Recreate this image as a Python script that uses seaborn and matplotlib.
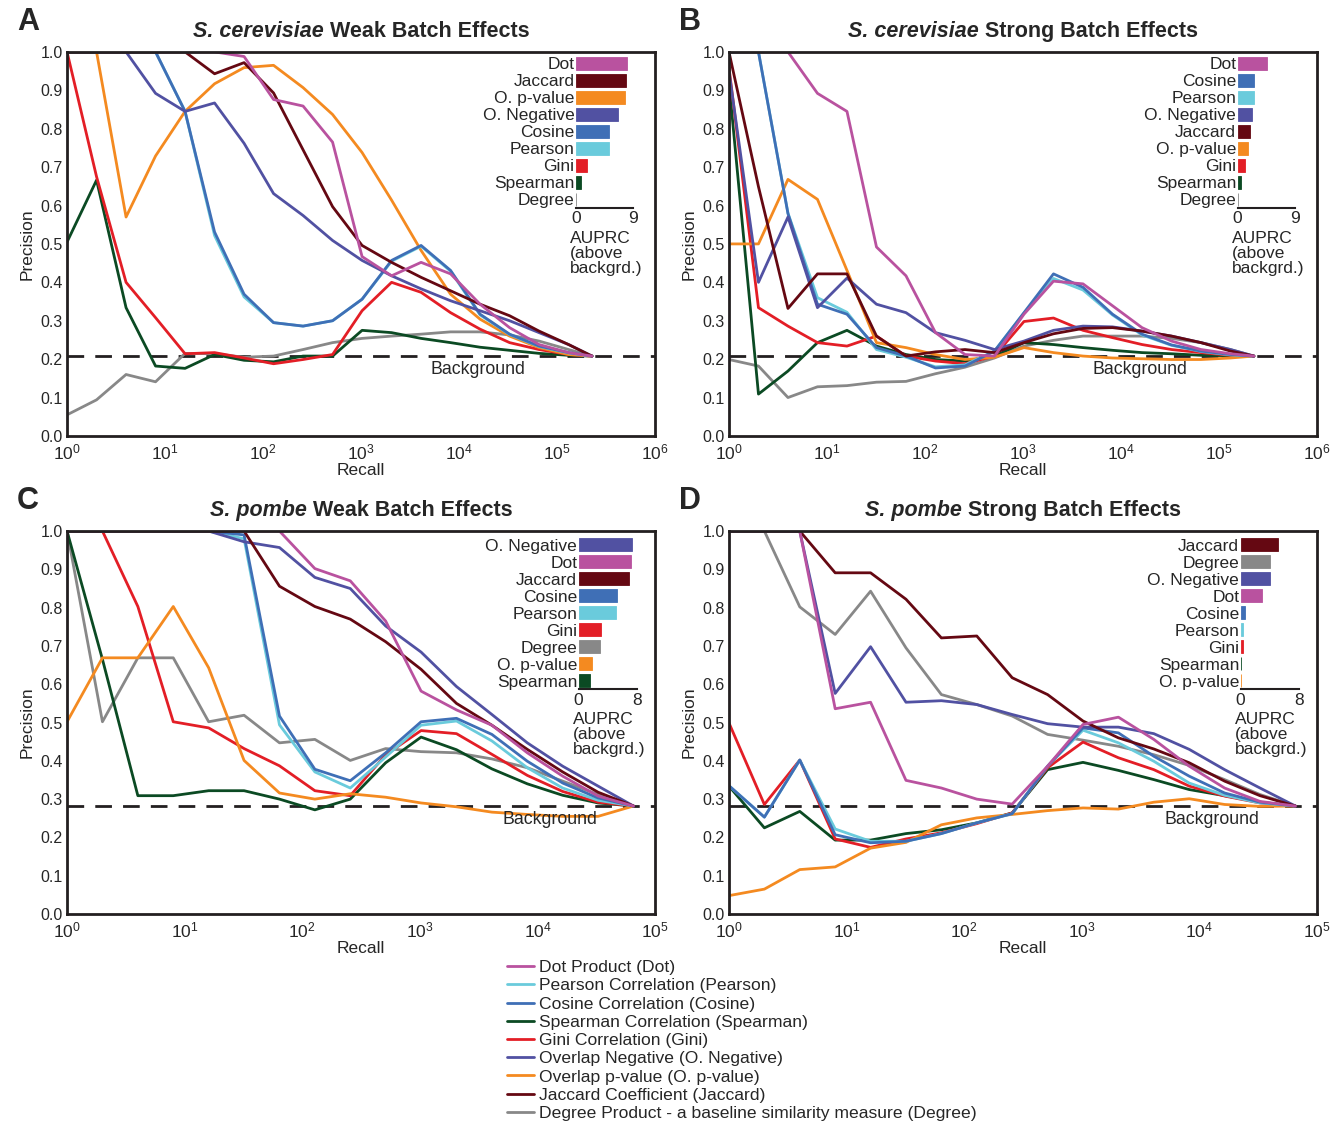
import numpy as np
import pandas as pd
import matplotlib
matplotlib.use('Agg')
import matplotlib.pyplot as plt
import matplotlib.transforms as mtransforms
from matplotlib.lines import Line2D
import seaborn as sns

# recall positions (number of top-ranked pairs)
recall_sc = [1, 2, 4, 8, 16, 32, 64, 128, 256, 512, 1024, 2048, 4096, 8192,
             16384, 32768, 65536, 131072, 227000]
recall_sp = [1, 2, 4, 8, 16, 32, 64, 128, 256, 512, 1024, 2048, 4096, 8192,
             16384, 32768, 65536]

methods = ['Dot', 'Pearson', 'Cosine', 'Spearman', 'Gini', 'O. Negative',
           'O. p-value', 'Jaccard', 'Degree']
legend_labels = ['Dot Product (Dot)', 'Pearson Correlation (Pearson)',
                 'Cosine Correlation (Cosine)', 'Spearman Correlation (Spearman)',
                 'Gini Correlation (Gini)', 'Overlap Negative (O. Negative)',
                 'Overlap p-value (O. p-value)', 'Jaccard Coefficient (Jaccard)',
                 'Degree Product - a baseline similarity measure (Degree)']
colors = ['#b9529f', '#6acbdc', '#3f6fb6', '#0b4a23', '#e31e26', '#5151a2',
          '#f48a20', '#650812', '#888888']

# A: S. cerevisiae weak
a_dot = [1.0, 1.0, 1.0, 1.0, 1.0, 1.0, 0.988, 0.876, 0.859, 0.765, 0.467, 0.417, 0.452, 0.422, 0.343, 0.282, 0.238, 0.217, 0.208]
a_pear = [1.0, 1.0, 1.0, 1.0, 0.845, 0.522, 0.362, 0.295, 0.286, 0.300, 0.356, 0.455, 0.494, 0.429, 0.315, 0.264, 0.233, 0.216, 0.208]
a_cos = [1.0, 1.0, 1.0, 1.0, 0.845, 0.531, 0.369, 0.295, 0.286, 0.300, 0.356, 0.457, 0.496, 0.431, 0.317, 0.265, 0.234, 0.217, 0.208]
a_spear = [0.505, 0.666, 0.334, 0.182, 0.176, 0.212, 0.197, 0.193, 0.208, 0.208, 0.275, 0.269, 0.254, 0.243, 0.231, 0.223, 0.215, 0.210, 0.208]
a_gini = [1.0, 0.675, 0.400, 0.308, 0.214, 0.217, 0.203, 0.188, 0.199, 0.212, 0.326, 0.400, 0.374, 0.321, 0.278, 0.243, 0.225, 0.212, 0.208]
a_oneg = [1.0, 1.0, 1.0, 0.892, 0.845, 0.867, 0.762, 0.631, 0.574, 0.509, 0.457, 0.417, 0.383, 0.352, 0.326, 0.300, 0.269, 0.238, 0.208]
a_opv = [1.0, 1.0, 0.570, 0.729, 0.845, 0.917, 0.959, 0.965, 0.907, 0.837, 0.738, 0.614, 0.483, 0.369, 0.304, 0.260, 0.230, 0.212, 0.208]
a_jac = [1.0, 1.0, 1.0, 1.0, 1.0, 0.943, 0.972, 0.893, 0.745, 0.597, 0.496, 0.452, 0.413, 0.378, 0.343, 0.313, 0.273, 0.238, 0.208]
a_deg = [0.055, 0.094, 0.160, 0.141, 0.215, 0.214, 0.205, 0.208, 0.225, 0.243, 0.254, 0.260, 0.265, 0.271, 0.271, 0.263, 0.247, 0.225, 0.208]

# B: S. cerevisiae strong
b_dot = [1.0, 1.0, 1.0, 0.892, 0.845, 0.492, 0.417, 0.269, 0.212, 0.208, 0.317, 0.403, 0.396, 0.339, 0.282, 0.247, 0.225, 0.214, 0.208]
b_pear = [1.0, 1.0, 0.580, 0.360, 0.322, 0.225, 0.205, 0.180, 0.185, 0.221, 0.320, 0.410, 0.380, 0.315, 0.263, 0.236, 0.220, 0.211, 0.208]
b_cos = [1.0, 1.0, 0.579, 0.343, 0.317, 0.230, 0.208, 0.177, 0.182, 0.221, 0.321, 0.422, 0.387, 0.317, 0.265, 0.237, 0.221, 0.212, 0.208]
b_spear = [0.920, 0.109, 0.169, 0.243, 0.275, 0.234, 0.212, 0.199, 0.195, 0.208, 0.243, 0.238, 0.230, 0.223, 0.217, 0.214, 0.210, 0.209, 0.208]
b_gini = [0.960, 0.334, 0.286, 0.243, 0.234, 0.260, 0.208, 0.195, 0.188, 0.208, 0.298, 0.307, 0.275, 0.256, 0.238, 0.225, 0.217, 0.210, 0.208]
b_oneg = [0.950, 0.400, 0.570, 0.334, 0.411, 0.343, 0.321, 0.269, 0.249, 0.225, 0.247, 0.275, 0.286, 0.284, 0.273, 0.260, 0.243, 0.225, 0.208]
b_opv = [0.500, 0.500, 0.668, 0.616, 0.431, 0.243, 0.230, 0.212, 0.199, 0.205, 0.230, 0.217, 0.208, 0.203, 0.201, 0.199, 0.199, 0.203, 0.208]
b_jac = [1.0, 0.649, 0.332, 0.422, 0.422, 0.260, 0.208, 0.219, 0.225, 0.217, 0.243, 0.266, 0.280, 0.282, 0.273, 0.260, 0.243, 0.221, 0.208]
b_deg = [0.199, 0.182, 0.100, 0.128, 0.131, 0.140, 0.142, 0.162, 0.179, 0.203, 0.234, 0.249, 0.260, 0.260, 0.260, 0.254, 0.243, 0.225, 0.208]

# C: S. pombe weak
c_dot = [1.0, 1.0, 1.0, 1.0, 1.0, 1.0, 1.0, 0.902, 0.870, 0.765, 0.582, 0.533, 0.493, 0.421, 0.360, 0.308, 0.282]
c_pear = [1.0, 1.0, 1.0, 1.0, 1.0, 0.980, 0.494, 0.371, 0.329, 0.410, 0.493, 0.504, 0.452, 0.382, 0.329, 0.297, 0.282]
c_cos = [1.0, 1.0, 1.0, 1.0, 1.0, 0.990, 0.517, 0.378, 0.348, 0.421, 0.502, 0.511, 0.469, 0.399, 0.342, 0.303, 0.282]
c_spear = [1.0, 0.665, 0.309, 0.309, 0.322, 0.322, 0.300, 0.272, 0.300, 0.395, 0.462, 0.429, 0.379, 0.340, 0.310, 0.290, 0.282]
c_gini = [1.0, 1.0, 0.803, 0.502, 0.486, 0.432, 0.387, 0.322, 0.309, 0.416, 0.479, 0.471, 0.417, 0.362, 0.320, 0.292, 0.282]
c_oneg = [1.0, 1.0, 1.0, 1.0, 1.0, 0.972, 0.957, 0.879, 0.850, 0.752, 0.684, 0.594, 0.521, 0.447, 0.386, 0.334, 0.282]
c_opv = [0.502, 0.669, 0.669, 0.803, 0.643, 0.401, 0.316, 0.300, 0.314, 0.305, 0.290, 0.280, 0.266, 0.260, 0.255, 0.255, 0.282]
c_jac = [1.0, 1.0, 1.0, 1.0, 1.0, 1.0, 0.856, 0.803, 0.770, 0.711, 0.639, 0.550, 0.493, 0.430, 0.371, 0.318, 0.282]
c_deg = [1.0, 0.502, 0.669, 0.669, 0.502, 0.519, 0.447, 0.456, 0.401, 0.432, 0.424, 0.421, 0.405, 0.382, 0.347, 0.312, 0.282]

# D: S. pombe strong
d_dot = [1.0, 1.0, 1.0, 0.536, 0.553, 0.349, 0.329, 0.300, 0.287, 0.386, 0.495, 0.514, 0.456, 0.386, 0.329, 0.294, 0.282]
d_pear = [0.335, 0.253, 0.402, 0.222, 0.190, 0.190, 0.210, 0.238, 0.262, 0.386, 0.480, 0.447, 0.399, 0.342, 0.310, 0.290, 0.282]
d_cos = [0.335, 0.253, 0.402, 0.207, 0.186, 0.190, 0.210, 0.238, 0.262, 0.386, 0.486, 0.473, 0.412, 0.360, 0.316, 0.292, 0.282]
d_spear = [0.334, 0.225, 0.268, 0.193, 0.193, 0.210, 0.220, 0.238, 0.264, 0.377, 0.396, 0.375, 0.351, 0.325, 0.309, 0.292, 0.282]
d_gini = [0.499, 0.286, 0.402, 0.196, 0.174, 0.196, 0.212, 0.236, 0.264, 0.382, 0.449, 0.408, 0.377, 0.334, 0.308, 0.290, 0.282]
d_oneg = [1.0, 1.0, 1.0, 0.576, 0.698, 0.553, 0.557, 0.547, 0.521, 0.497, 0.488, 0.488, 0.471, 0.430, 0.377, 0.329, 0.282]
d_opv = [0.048, 0.065, 0.116, 0.123, 0.172, 0.187, 0.233, 0.251, 0.260, 0.270, 0.277, 0.274, 0.292, 0.301, 0.286, 0.281, 0.282]
d_jac = [1.0, 1.0, 1.0, 0.891, 0.891, 0.822, 0.721, 0.726, 0.617, 0.573, 0.504, 0.460, 0.431, 0.395, 0.347, 0.309, 0.282]
d_deg = [1.0, 1.0, 0.802, 0.730, 0.843, 0.695, 0.573, 0.547, 0.517, 0.469, 0.454, 0.438, 0.416, 0.388, 0.351, 0.312, 0.282]

background = [0.208, 0.208, 0.282, 0.282]

# AUPRC above background, in inset order
a_bar_names = ['Dot', 'Jaccard', 'O. p-value', 'O. Negative', 'Cosine', 'Pearson', 'Gini', 'Spearman', 'Degree']
a_bar_vals = [8.0, 7.8, 7.7, 6.6, 5.2, 5.2, 1.8, 0.9, 0.1]
b_bar_names = ['Dot', 'Cosine', 'Pearson', 'O. Negative', 'Jaccard', 'O. p-value', 'Gini', 'Spearman', 'Degree']
b_bar_vals = [4.6, 2.5, 2.5, 2.2, 2.0, 1.6, 1.1, 0.6, 0.0]
c_bar_names = ['O. Negative', 'Dot', 'Jaccard', 'Cosine', 'Pearson', 'Gini', 'Degree', 'O. p-value', 'Spearman']
c_bar_vals = [7.3, 7.2, 6.95, 5.3, 5.2, 3.1, 3.0, 1.9, 1.5]
d_bar_names = ['Jaccard', 'Degree', 'O. Negative', 'Dot', 'Cosine', 'Pearson', 'Gini', 'Spearman', 'O. p-value']
d_bar_vals = [5.2, 4.1, 4.0, 3.0, 0.55, 0.4, 0.4, 0.1, 0.1]

sns.set_style('white')
plt.rcParams['font.family'] = ['Liberation Sans', 'DejaVu Sans']
plt.rcParams['mathtext.fontset'] = 'custom'
plt.rcParams['mathtext.rm'] = 'Liberation Sans'
plt.rcParams['mathtext.it'] = 'Liberation Sans:italic'
plt.rcParams['mathtext.bf'] = 'Liberation Sans:bold'

palette = dict(zip(methods, colors))
ink = '#231f20'

fig = plt.figure(figsize=(13.41, 11.23), dpi=100)

panels = [
    ('A', 'S. cerevisiae', 'Weak Batch Effects', recall_sc, 1e6,
     [a_dot, a_pear, a_cos, a_spear, a_gini, a_oneg, a_opv, a_jac, a_deg],
     a_bar_names, a_bar_vals, 9, [0.05, 0.6118, 0.4385, 0.342], 0.699),
    ('B', 'S. cerevisiae', 'Strong Batch Effects', recall_sc, 1e6,
     [b_dot, b_pear, b_cos, b_spear, b_gini, b_oneg, b_opv, b_jac, b_deg],
     b_bar_names, b_bar_vals, 9, [0.5436, 0.6118, 0.4385, 0.342], 0.699),
    ('C', 'S. pombe', 'Weak Batch Effects', recall_sp, 1e5,
     [c_dot, c_pear, c_cos, c_spear, c_gini, c_oneg, c_opv, c_jac, c_deg],
     c_bar_names, c_bar_vals, 8, [0.05, 0.1861, 0.4385, 0.341], 0.821),
    ('D', 'S. pombe', 'Strong Batch Effects', recall_sp, 1e5,
     [d_dot, d_pear, d_cos, d_spear, d_gini, d_oneg, d_opv, d_jac, d_deg],
     d_bar_names, d_bar_vals, 8, [0.5436, 0.1861, 0.4385, 0.341], 0.821),
]

titles = []
for k, (letter, species, rest, recall, xmax, series, bnames, bvals, bmax, pos, bg_x) in enumerate(panels):
    ax = fig.add_axes(pos)
    rows = []
    for m, vals in zip(methods, series):
        for r, v in zip(recall, vals):
            rows.append((m, r, v))
    df = pd.DataFrame(rows, columns=['method', 'recall', 'precision'])
    draw_order = ['Degree', 'Spearman', 'Gini', 'O. p-value', 'Pearson', 'Cosine',
                  'O. Negative', 'Jaccard', 'Dot']
    sns.lineplot(data=df, x='recall', y='precision', hue='method', hue_order=draw_order,
                 palette=palette, linewidth=2.0, estimator=None, legend=False, ax=ax)
    ax.set_xscale('log')
    ax.set_xlim(1, xmax)
    ax.set_ylim(0, 1)
    ax.axhline(background[k], color=ink, lw=2, ls=(0, (6, 4)), zorder=1)
    ax.text(bg_x, background[k] - 0.035, 'Background', fontsize=12.8, ha='center', va='center',
            transform=mtransforms.blended_transform_factory(ax.transAxes, ax.transData))
    ax.set_yticks(np.arange(0, 1.01, 0.1))
    ax.set_yticklabels([f'{v:.1f}' for v in np.arange(0, 1.01, 0.1)])
    ax.xaxis.set_minor_locator(matplotlib.ticker.NullLocator())
    ax.tick_params(axis='both', length=3, width=1, color=ink, direction='in')
    ax.tick_params(axis='y', labelsize=11.5, pad=3)
    ax.tick_params(axis='x', labelsize=12.5, pad=5)
    ax.set_xlabel('Recall', fontsize=12.5, labelpad=0)
    ax.set_ylabel('Precision', fontsize=12.5, labelpad=4)
    for s in ax.spines.values():
        s.set_color(ink)
        s.set_linewidth(2)

    # title: bold italic species then bold rest
    t1 = ax.text(0.3, 1.039, species, transform=ax.transAxes, fontsize=15.5,
                 fontweight='bold', fontstyle='italic', ha='left', va='baseline')
    t2 = ax.annotate(' ' + rest, xy=(1, 0), xycoords=t1, fontsize=15.5,
                     fontweight='bold', ha='left', va='bottom')
    titles.append((ax, t1, t2))

    fig.text(pos[0] - 0.029, pos[1] + pos[3] + 0.027, letter, fontsize=22, fontweight='bold',
             ha='center', va='center')

    # AUPRC inset
    if k in (0, 1):
        ins = ax.inset_axes([0.865, 0.594, 0.098, 0.398])
    else:
        ins = ax.inset_axes([0.870, 0.587, 0.099, 0.400])
    bdf = pd.DataFrame({'name': bnames, 'auprc': bvals})
    sns.barplot(data=bdf, x='auprc', y='name', hue='name', palette=palette,
                order=bnames, hue_order=bnames, width=0.78, saturation=1,
                legend=False, ax=ins)
    for p in ins.patches:
        p.set_edgecolor(p.get_facecolor())
        p.set_linewidth(0.6)
    ins.set_xlim(0, bmax)
    ins.set_ylim(len(bnames) - 0.5, -0.5)
    ins.set_xticks([0, bmax])
    ins.set_xticklabels(['0', str(bmax)])
    ins.set_xlabel('')
    ins.set_ylabel('')
    ins.tick_params(axis='y', length=0, labelsize=12.5, pad=1)
    ins.tick_params(axis='x', length=0, labelsize=12.5, pad=2.5)
    for side in ('top', 'right', 'left'):
        ins.spines[side].set_visible(False)
    ins.spines['bottom'].set_color(ink)
    ins.spines['bottom'].set_linewidth(1.5)
    ins.patch.set_alpha(0)
    ins.text(-0.1, -0.15, 'AUPRC\n(above\nbackgrd.)', transform=ins.transAxes,
             fontsize=12.5, ha='left', va='top', linespacing=1.0)

# center titles
fig.canvas.draw()
renderer = fig.canvas.get_renderer()
for ax, t1, t2 in titles:
    w = t1.get_window_extent(renderer).width + t2.get_window_extent(renderer).width
    axw = ax.get_window_extent(renderer).width
    t1.set_x(0.5 - w / 2 / axw)

handles = [Line2D([], [], color=c, lw=2) for c in colors]
fig.legend(handles, legend_labels, loc='upper left', bbox_to_anchor=(507 / 1341, 1 - 960 / 1123),
           frameon=False, fontsize=12.6, handlelength=1.55, handletextpad=0.3,
           labelspacing=0.17, borderpad=0, borderaxespad=0)

fig.savefig('out.png', dpi=100)
